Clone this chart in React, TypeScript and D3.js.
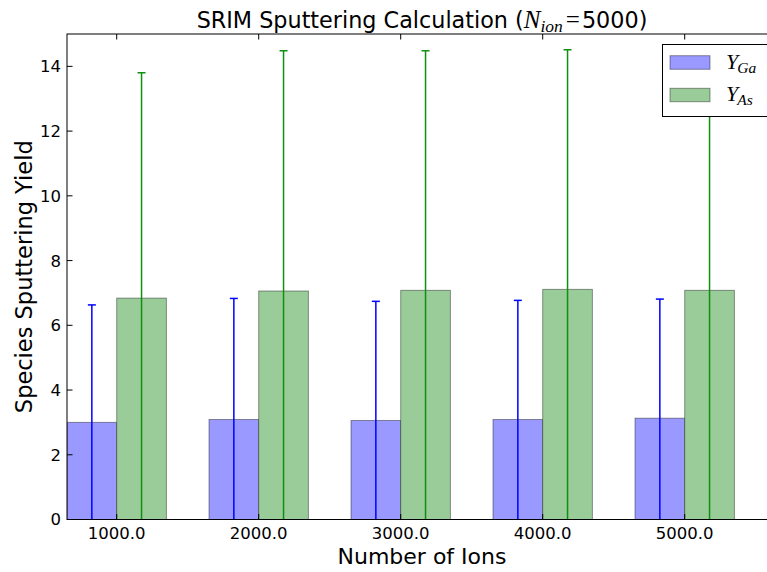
import React from "react";
import * as d3 from "d3";

const ions = ["1000.0", "2000.0", "3000.0", "4000.0", "5000.0"];
const yGa = [3.0, 3.09, 3.06, 3.09, 3.13];
const yGaErr = [3.63, 3.74, 3.68, 3.68, 3.68];
const yAs = [6.84, 7.06, 7.08, 7.11, 7.08];
const yAsErr = [6.96, 7.42, 7.4, 7.4, 7.42];
const yTicks = [0, 2, 4, 6, 8, 10, 12, 14];

const W = 767;
const H = 572;
const BAR_W = 0.35;
const SANS = "'DejaVu Sans', sans-serif";
const SERIF = "'Liberation Serif', 'DejaVu Serif', serif";

export default function App() {
  const x = d3.scaleLinear().domain([0, 5]).range([67, 777]);
  const y = d3.scaleLinear().domain([0, 15]).range([519.5, 34]);
  const x0 = x(0);
  const x1 = x(5);
  const y0 = y(0);
  const y1 = y(15);
  const idx = d3.range(ions.length);

  const series = [
    { vals: yGa, errs: yGaErr, off: 0, fill: "#9999ff", line: "#0000ff" },
    { vals: yAs, errs: yAsErr, off: BAR_W, fill: "#99cc99", line: "#109010" },
  ];

  return (
    <div style={{ position: "fixed", left: 0, top: 0, width: W, height: H, background: "#fff" }}>
      <svg width={W} height={H} style={{ display: "block", overflow: "hidden" }}>
        <rect x={0} y={0} width={W} height={H} fill="#fff" />
        <defs>
          <clipPath id="plotclip">
            <rect x={x0} y={y1} width={x1 - x0} height={y0 - y1} />
          </clipPath>
        </defs>
        <g clipPath="url(#plotclip)">
          {series.map((s, si) =>
            idx.map((i) => (
              <rect
                key={`b${si}-${i}`}
                x={x(i + s.off)}
                y={y(s.vals[i])}
                width={x(i + s.off + BAR_W) - x(i + s.off)}
                height={y0 - y(s.vals[i])}
                fill={s.fill}
                stroke="rgba(0,0,0,0.4)"
                strokeWidth={1}
              />
            ))
          )}
          {series.map((s, si) =>
            idx.map((i) => {
              const cx = x(i + s.off + BAR_W / 2);
              const top = y(s.vals[i] + s.errs[i]);
              const bot = y(Math.max(0, s.vals[i] - s.errs[i]));
              return (
                <g key={`e${si}-${i}`} stroke={s.line}>
                  <line x1={cx} x2={cx} y1={bot} y2={top} strokeWidth={1.5} />
                  <line x1={cx - 4} x2={cx + 4} y1={top} y2={top} strokeWidth={1.5} />
                </g>
              );
            })
          )}
        </g>
        {/* spines */}
        <rect x={x0} y={y1} width={x1 - x0} height={y0 - y1} fill="none" stroke="#000" strokeWidth={1} />
        {/* y ticks */}
        {yTicks.map((t) => (
          <g key={`yt${t}`}>
            <line x1={x0} x2={x0 + 5.5} y1={y(t)} y2={y(t)} stroke="#000" strokeWidth={1} />
            <line x1={x1} x2={x1 - 5.5} y1={y(t)} y2={y(t)} stroke="#000" strokeWidth={1} />
            <text x={x0 - 6} y={y(t)} dy="0.36em" textAnchor="end" fontFamily={SANS} fontSize={16.5} fill="#000">
              {t}
            </text>
          </g>
        ))}
        {/* x ticks */}
        {idx.map((i) => {
          const tx = x(i + BAR_W);
          return (
            <g key={`xt${i}`}>
              <line x1={tx} x2={tx} y1={y0} y2={y0 - 5.5} stroke="#000" strokeWidth={1} />
              <line x1={tx} x2={tx} y1={y1} y2={y1 + 5.5} stroke="#000" strokeWidth={1} />
              <text x={tx} y={539} textAnchor="middle" fontFamily={SANS} fontSize={16.5} fill="#000">
                {ions[i]}
              </text>
            </g>
          );
        })}
        {/* axis labels */}
        <text x={(x0 + x1) / 2} y={564} textAnchor="middle" fontFamily={SANS} fontSize={22} fill="#000">
          Number of Ions
        </text>
        <text
          transform={`translate(32, ${(y0 + y1) / 2}) rotate(-90)`}
          textAnchor="middle"
          fontFamily={SANS}
          fontSize={22.5}
          fill="#000"
        >
          Species Sputtering Yield
        </text>
        {/* title */}
        <text x={(x0 + x1) / 2} y={28.3} textAnchor="middle" fontFamily={SANS} fontSize={22.3} fill="#000">
          <tspan>SRIM Sputtering Calculation (</tspan>
          <tspan fontFamily={SERIF} fontStyle="italic" fontSize={25}>N</tspan>
          <tspan fontFamily={SERIF} fontStyle="italic" fontSize={17.5} dy={4}>ion</tspan>
          <tspan fontFamily={SERIF} fontSize={25} dy={-4} dx={3}>=</tspan>
          <tspan dx={2}>5000)</tspan>
        </text>
        {/* legend */}
        <g>
          <rect x={662.5} y={44.5} width={112} height={72} fill="#fff" stroke="#000" strokeWidth={1} />
          <rect x={670} y={55.7} width={40} height={13.6} fill="#9999ff" stroke="rgba(0,0,0,0.4)" strokeWidth={1} />
          <rect x={670} y={88.3} width={40} height={13.4} fill="#99cc99" stroke="rgba(0,0,0,0.4)" strokeWidth={1} />
          <text x={726} y={69.3} fontFamily={SERIF} fontStyle="italic" fontSize={22} fill="#000">
            <tspan>Y</tspan>
            <tspan fontSize={15.5} dy={4} dx={-1}>Ga</tspan>
          </text>
          <text x={726} y={101} fontFamily={SERIF} fontStyle="italic" fontSize={22} fill="#000">
            <tspan>Y</tspan>
            <tspan fontSize={15.5} dy={4} dx={-1}>As</tspan>
          </text>
        </g>
      </svg>
    </div>
  );
}
